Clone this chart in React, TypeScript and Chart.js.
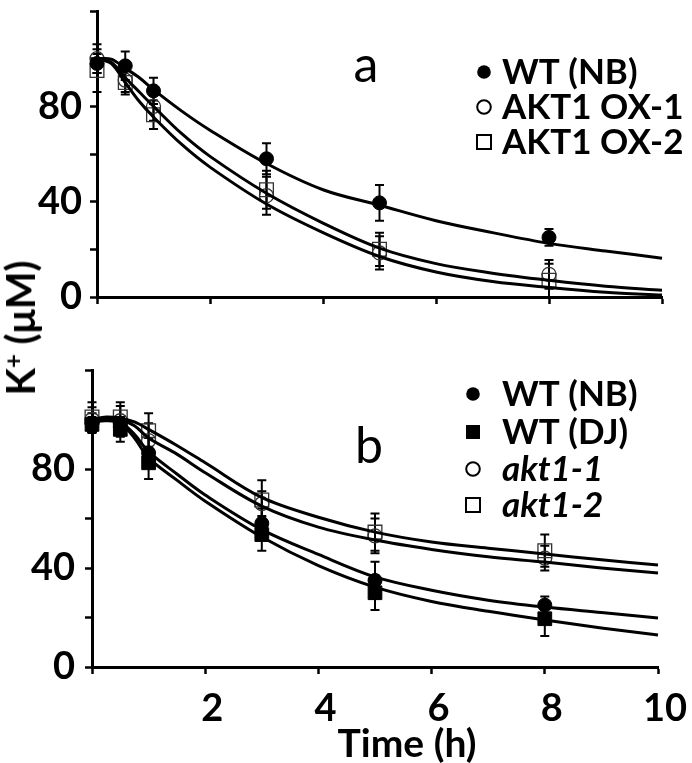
import React, { useEffect, useRef } from 'react';
import { Chart, registerables } from 'chart.js';

Chart.register(...registerables);

const FONT = 'Lato, "Open Sans", "DejaVu Sans", sans-serif';

// Sampling times (h)
const sampleTimes = [0, 0.5, 1, 3, 5, 8];
const curveTimes = [0, 0.25, 0.5, 0.75, 1, 1.5, 2, 3, 4, 5, 6, 7, 8, 9, 10];
const xTicks = [0, 2, 4, 6, 8, 10];
const yTicks = [0, 20, 40, 60, 80, 100, 120];
const yLabelled = [0, 40, 80];

// ---- Panel a ----
const aNames = ['WT (NB)', 'AKT1 OX-1', 'AKT1 OX-2'];
const aWtNB = [98, 97, 86.5, 58, 39.5, 25];
const aWtNBErr = [4, 6, 5.5, 6.5, 7.5, 3.5];
const aOx1 = [100, 91, 80, 42.5, 18.5, 9.5];
const aOx1Err = [6, 5, 6, 8, 7, 6];
const aOx2 = [95, 90, 76.5, 45, 20, 7];
const aOx2Err = [9, 5, 6, 8, 7, 7];
const aWtNBFit = [100, 99.8, 96, 92, 87, 78, 70, 56, 45, 38.5, 32, 27, 22.5, 19.3, 16.3];
const aOx1Fit = [100, 98.5, 92, 86, 80, 68.5, 59, 43.5, 31, 20.5, 14, 10, 7, 4.5, 2.8];
const aOx2Fit = [100, 98, 90, 82, 75.5, 64, 54.5, 39, 27, 17, 10.5, 6.5, 4, 2, 0.8];

// ---- Panel b ----
const bNames = ['WT (NB)', 'WT (DJ)', 'akt1-1', 'akt1-2'];
const bWtNB = [98.5, 97, 86.5, 58, 35, 25];
const bWtNBErr = [4, 4, 6, 6, 7.5, 3.5];
const bWtDJ = [98, 96, 82.5, 53.5, 30, 19.5];
const bWtDJErr = [3, 5, 6.5, 6.5, 7, 7];
const bAkt1 = [100, 99.5, 91.5, 66, 53, 44];
const bAkt1Err = [5, 6, 7, 5, 7, 5];
const bAkt2 = [101, 101, 95.5, 67.5, 54.5, 47];
const bAkt2Err = [6, 6, 7, 8, 7.5, 6.5];
const bWtNBFit = [99.5, 100, 99, 94, 87, 78, 69.5, 55.5, 45.5, 36.4, 31, 27, 24.2, 22, 19.8];
const bWtDJFit = [99, 99.5, 98.5, 92.5, 84.5, 75.5, 67, 52.5, 41, 32.3, 26.5, 22.5, 19, 15.8, 12.9];
const bAkt1Fit = [100, 100.5, 100, 97.5, 92.5, 86, 78.5, 65, 56.5, 51.3, 47.5, 44.5, 42.4, 40, 38];
const bAkt2Fit = [100, 101, 100.5, 99, 96, 89.5, 82.5, 68.5, 60.5, 54.5, 50.5, 48, 45.7, 43.3, 41.2];

type Series = {
  label: string;
  values: number[];
  errors: number[];
  style: 'circle' | 'rect';
  filled: boolean;
  italic: boolean;
};

type Panel = {
  letter: string;
  letterX: number;
  letterBase: number;
  series: Series[];
  fits: number[][];
  legendMarkerX: number;
  legendTextX: number;
  legendBaselines: number[];
  canvasTop: number;
  canvasHeight: number;
  padTop: number;
  padRight: number;
  yAxisWidth: number;
  xAxisHeight: number;
  yPad: number;
  showXLabels: boolean;
};

const panelA: Panel = {
  letter: 'a',
  letterX: 366,
  letterBase: 82,
  series: [
    { label: aNames[0], values: aWtNB, errors: aWtNBErr, style: 'circle', filled: true, italic: false },
    { label: aNames[1], values: aOx1, errors: aOx1Err, style: 'circle', filled: false, italic: false },
    { label: aNames[2], values: aOx2, errors: aOx2Err, style: 'rect', filled: false, italic: false },
  ],
  fits: [aWtNBFit, aOx1Fit, aOx2Fit],
  legendMarkerX: 484,
  legendTextX: 502,
  legendBaselines: [84, 119, 154],
  canvasTop: 0,
  canvasHeight: 340,
  padTop: 0,
  padRight: 30,
  yAxisWidth: 97,
  xAxisHeight: 43,
  yPad: 8,
  showXLabels: false,
};

const panelB: Panel = {
  letter: 'b',
  letterX: 369,
  letterBase: 463 - 340,
  series: [
    { label: bNames[0], values: bWtNB, errors: bWtNBErr, style: 'circle', filled: true, italic: false },
    { label: bNames[1], values: bWtDJ, errors: bWtDJErr, style: 'rect', filled: true, italic: false },
    { label: bNames[2], values: bAkt1, errors: bAkt1Err, style: 'circle', filled: false, italic: true },
    { label: bNames[3], values: bAkt2, errors: bAkt2Err, style: 'rect', filled: false, italic: true },
  ],
  fits: [bWtNBFit, bWtDJFit, bAkt1Fit, bAkt2Fit],
  legendMarkerX: 473,
  legendTextX: 502,
  legendBaselines: [406 - 340, 444 - 340, 481 - 340, 517 - 340],
  canvasTop: 340,
  canvasHeight: 423,
  padTop: 30,
  padRight: 34,
  yAxisWidth: 92,
  xAxisHeight: 96,
  yPad: 10,
  showXLabels: true,
};

function makeDecorPlugin(panel: Panel) {
  return {
    id: 'panelDecor',
    beforeDatasetsDraw(chart: any) {
      const { ctx, scales } = chart;
      const xs = scales.x;
      const ys = scales.y;
      ctx.save();
      ctx.strokeStyle = '#000';
      ctx.lineWidth = 2;
      const cap = 4.5;
      panel.series.forEach((s) => {
        s.values.forEach((v, i) => {
          const e = s.errors[i];
          const px = xs.getPixelForValue(sampleTimes[i]);
          const top = ys.getPixelForValue(v + e);
          const bot = ys.getPixelForValue(v - e);
          ctx.beginPath();
          ctx.moveTo(px, top);
          ctx.lineTo(px, bot);
          ctx.moveTo(px - cap, top);
          ctx.lineTo(px + cap, top);
          ctx.moveTo(px - cap, bot);
          ctx.lineTo(px + cap, bot);
          ctx.stroke();
        });
      });
      ctx.restore();
    },
    afterDraw(chart: any) {
      const { ctx } = chart;
      ctx.save();
      // panel letter
      ctx.fillStyle = '#000';
      ctx.font = `normal 50px ${FONT}`;
      ctx.textAlign = 'center';
      ctx.textBaseline = 'alphabetic';
      ctx.fillText(panel.letter, panel.letterX, panel.letterBase);
      // legend
      panel.series.forEach((s, i) => {
        const base = panel.legendBaselines[i];
        const cy = base - 12;
        const cx = panel.legendMarkerX;
        ctx.beginPath();
        if (s.style === 'circle') {
          ctx.arc(cx, cy, 6.8, 0, Math.PI * 2);
        } else {
          ctx.rect(cx - 7, cy - 7, 14, 14);
        }
        if (s.filled) {
          ctx.fillStyle = '#000';
          ctx.fill();
        } else {
          ctx.lineWidth = 2;
          ctx.strokeStyle = '#000';
          ctx.stroke();
        }
        ctx.fillStyle = '#000';
        ctx.font = `${s.italic ? 'italic ' : ''}bold 35px ${FONT}`;
        ctx.textAlign = 'left';
        ctx.textBaseline = 'alphabetic';
        ctx.fillText(s.label, panel.legendTextX, base);
      });
      ctx.restore();
    },
  };
}

function buildChart(canvas: HTMLCanvasElement, panel: Panel) {
  const datasets: any[] = [];
  panel.fits.forEach((vals, k) => {
    datasets.push({
      label: `${panel.series[k] ? panel.series[k].label : ''} fit`,
      data: curveTimes.map((t, i) => ({ x: t, y: vals[i] })),
      showLine: true,
      borderColor: '#000',
      borderWidth: 3,
      pointRadius: 0,
      tension: 0.35,
      fill: false,
      clip: false,
    });
  });
  panel.series.forEach((s) => {
    datasets.push({
      label: s.label,
      data: sampleTimes.map((t, i) => ({ x: t, y: s.values[i] })),
      showLine: false,
      pointStyle: s.style,
      pointRadius: s.style === 'rect' ? 9.7 : 7,
      pointBackgroundColor: s.filled ? '#000' : 'rgba(255,255,255,0)',
      pointBorderColor: s.filled ? '#000' : '#333',
      pointBorderWidth: s.filled ? 1 : 1.3,
      clip: false,
    });
  });

  const grid = {
    display: true,
    drawOnChartArea: false,
    drawTicks: true,
    tickLength: 7,
    tickWidth: 2.5,
    tickColor: '#000',
    color: '#000',
  };
  const tickFont = { family: FONT, weight: 'bold' as const, size: 38 };

  return new Chart(canvas, {
    type: 'scatter',
    data: { datasets },
    plugins: [makeDecorPlugin(panel)],
    options: {
      animation: false,
      responsive: false,
      maintainAspectRatio: false,
      events: [],
      layout: { padding: { top: panel.padTop, right: panel.padRight, left: 0, bottom: 0 } },
      plugins: {
        legend: { display: false },
        tooltip: { enabled: false },
        title: { display: false },
      },
      scales: {
        x: {
          type: 'linear',
          min: 0,
          max: 10,
          border: { display: true, color: '#000', width: 3 },
          grid,
          afterBuildTicks: (s: any) => {
            s.ticks = xTicks.map((v) => ({ value: v }));
          },
          ticks: {
            display: panel.showXLabels,
            autoSkip: false,
            maxRotation: 0,
            labelOffset: 7,
            padding: 12,
            color: '#000',
            font: tickFont,
            callback: (v: any) => (v === 0 ? '' : String(v)),
          },
          afterFit: (s: any) => {
            s.height = panel.xAxisHeight;
            s.paddingLeft = 0;
            s.paddingRight = 0;
          },
        },
        y: {
          type: 'linear',
          min: 0,
          max: 120,
          border: { display: true, color: '#000', width: 3 },
          grid,
          afterBuildTicks: (s: any) => {
            s.ticks = yTicks.map((v) => ({ value: v }));
          },
          ticks: {
            autoSkip: false,
            padding: panel.yPad,
            color: '#000',
            font: tickFont,
            callback: (v: any) => (yLabelled.includes(v) ? String(v) : ''),
          },
          afterFit: (s: any) => {
            s.width = panel.yAxisWidth;
            s.paddingTop = 0;
            s.paddingBottom = 0;
          },
        },
      },
    } as any,
  });
}

function PanelCanvas({ panel }: { panel: Panel }) {
  const ref = useRef<HTMLCanvasElement | null>(null);
  useEffect(() => {
    if (!ref.current) return;
    const chart = buildChart(ref.current, panel);
    return () => chart.destroy();
  }, [panel]);
  return (
    <canvas
      ref={ref}
      width={692}
      height={panel.canvasHeight}
      style={{
        position: 'absolute',
        left: 0,
        top: panel.canvasTop,
        width: 692,
        height: panel.canvasHeight,
      }}
    />
  );
}

export default function App() {
  useEffect(() => {
    document.body.style.margin = '0';
  }, []);
  return (
    <div style={{ position: 'relative', width: 692, height: 763, background: '#fff', overflow: 'hidden' }}>
      <PanelCanvas panel={panelA} />
      <PanelCanvas panel={panelB} />
      <div
        style={{
          position: 'absolute',
          left: 20,
          top: 328,
          transform: 'translate(-50%, -50%) rotate(-90deg)',
          whiteSpace: 'nowrap',
          fontFamily: FONT,
          fontWeight: 'bold',
          fontSize: 40,
          lineHeight: 1,
          color: '#000',
        }}
      >
        K<sup style={{ fontSize: '60%', verticalAlign: '0.55em', lineHeight: 0 }}>+</sup> (μM)
      </div>
      <div
        style={{
          position: 'absolute',
          left: 407,
          top: 742,
          transform: 'translate(-50%, -50%)',
          whiteSpace: 'nowrap',
          fontFamily: FONT,
          fontWeight: 'bold',
          fontSize: 39,
          lineHeight: 1,
          color: '#000',
        }}
      >
        Time (h)
      </div>
    </div>
  );
}
